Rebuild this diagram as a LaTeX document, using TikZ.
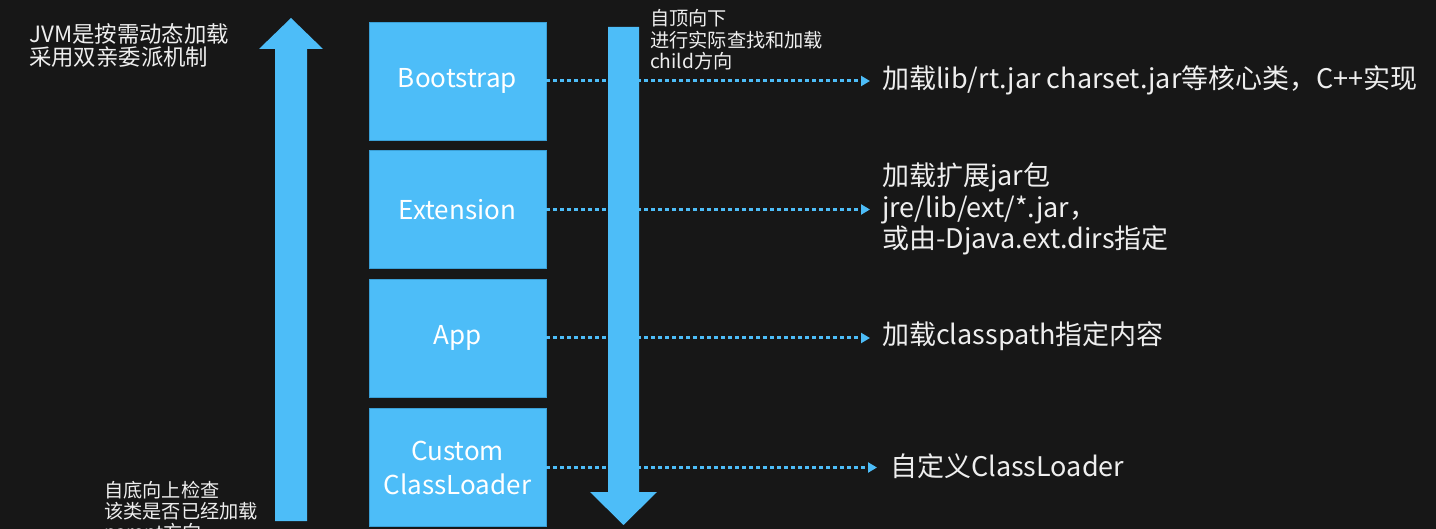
\documentclass[tikz,border=0pt]{standalone}
\usepackage{fontspec}
\setmainfont{Noto Sans CJK SC}
\usetikzlibrary{arrows.meta}
\definecolor{bg}{HTML}{171717}
\definecolor{sky}{HTML}{4DBDF8}
\definecolor{skyedge}{HTML}{3A9FD6}
\definecolor{txtc}{HTML}{EEEEEE}
\begin{document}
\begin{tikzpicture}[x=1pt,y=-1pt,
  loader/.style={fill=sky,draw=skyedge,line width=0.8pt,minimum width=177pt,minimum height=118pt,inner sep=0pt,
    text=white,align=center,font=\fontsize{26}{34}\selectfont},
  note/.style={text=txtc,align=left,inner sep=0pt,anchor=west},
  dotlink/.style={sky,line width=3pt,dash pattern=on 3.5pt off 3.5pt,shorten >=12pt,
    -{Triangle[length=9pt,width=10pt]}},
  bigarrow/.style={fill=sky}]
\fill[bg] (0,0) rectangle (1436,529);
\clip (0,0) rectangle (1436,529);

% loader boxes
\node[loader] (boot) at (457.5,81)    {Bootstrap};
\node[loader] (ext)  at (457.5,209.5) {Extension};
\node[loader] (app)  at (457.5,338)   {App};
\node[loader] (cust) at (457.5,467.5) {Custom\\ClassLoader};

% descriptions
\node[note,font=\fontsize{27}{31.5}\selectfont] (d1) at (882,80) {加载lib/rt.jar charset.jar等核心类，C++实现};
\node[note,font=\fontsize{27}{31.5}\selectfont] (d2) at (882,209) {加载扩展jar包\\jre/lib/ext/*.jar，\\或由-Djava.ext.dirs指定};
\node[note,font=\fontsize{27}{31.5}\selectfont] (d3) at (882,336) {加载classpath指定内容};
\node[note,font=\fontsize{27}{31.5}\selectfont] (d4) at (890,466) {自定义ClassLoader};

% side notes
\node[note,font=\fontsize{22.4}{23}\selectfont] (jvm) at (29,45.5) {JVM是按需动态加载\\采用双亲委派机制};
\node[note,font=\fontsize{19.2}{21.5}\selectfont] (down) at (650,40) {自顶向下\\进行实际查找和加载\\child方向};
\node[note,font=\fontsize{19.2}{21}\selectfont] (up) at (104,512.5) {自底向上检查\\该类是否已经加载\\parent方向};

% dotted connectors
\draw[dotlink] (boot.east) -- (boot.east -| d1.west);
\draw[dotlink] (ext.east)  -- (ext.east -| d2.west);
\draw[dotlink] (app.east)  -- (app.east -| d3.west);
\draw[dotlink,shorten >=13pt] (cust.east) -- (cust.east -| d4.west);

% big arrows
\coordinate (uptip) at (291,18);
\coordinate (downtip) at (623.5,525);
\fill[bigarrow] (275,521) -- (275,49) -- (259,49) -- (uptip) -- (323,49) -- (307,49) -- (307,521) -- cycle;
\fill[bigarrow] (608,27) -- (639,27) -- (639,492) -- (657,492) -- (downtip) -- (590,492) -- (608,492) -- cycle;
\end{tikzpicture}
\end{document}
